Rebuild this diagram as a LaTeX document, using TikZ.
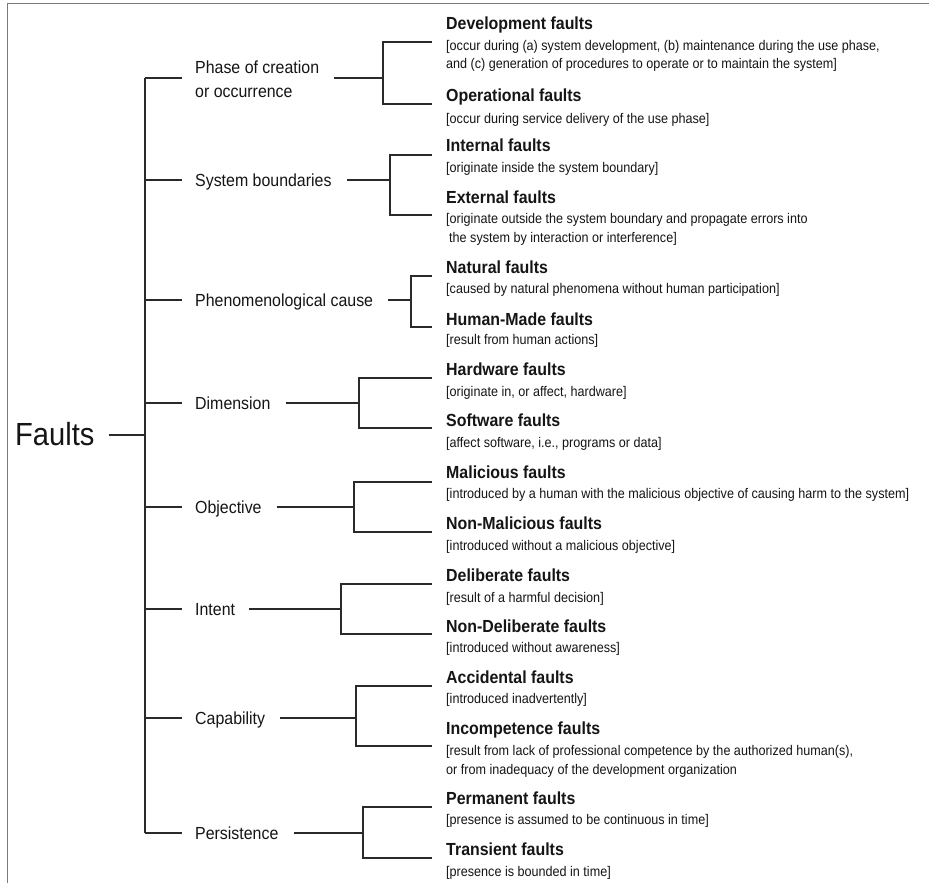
\documentclass[tikz,border=0pt]{standalone}
\usepackage{fontspec}
\setmainfont{Liberation Sans}
\newfontfamily\narrowfont[FakeStretch=0.91]{Liberation Sans}
\newfontfamily\descfont[FakeStretch=0.9]{Liberation Sans}
\definecolor{linec}{HTML}{2A2A2A}
\definecolor{framec}{HTML}{7A7A7A}
\definecolor{txt}{HTML}{151515}
\begin{document}
\begin{tikzpicture}[x=1pt,y=-1pt,
  ln/.style={line width=1.3pt, draw=linec},
  trunkline/.style={line width=1.6pt, draw=linec},
  frameline/.style={line width=1pt, draw=framec},
  cat/.style={anchor=west, inner sep=0pt, text height=12.5pt, text depth=0pt, font=\narrowfont\fontsize{17.5}{21}\selectfont, text=txt},
  ttl/.style={anchor=base west, inner sep=0pt, font=\narrowfont\fontsize{17.5}{21}\selectfont\bfseries, text=txt},
  dsc/.style={anchor=base west, inner sep=0pt, font=\descfont\fontsize{14}{19}\selectfont, text=txt}]
\useasboundingbox (0,0) rectangle (929,883);
\fill[white] (0,0) rectangle (929,883);
% frame (top and left edges)
\draw[frameline] (7,883) -- (7,4) -- (929,4);

% root
\node[anchor=base west, inner sep=0pt, text height=22pt, text depth=0pt,
      font=\narrowfont\fontsize{32}{38}\selectfont, text=txt] (faults) at (15,445) {Faults};

% category labels
\node[anchor=west, inner sep=0pt, align=left, font=\narrowfont\fontsize{17.5}{24}\selectfont, text=txt]
      (phase) at (195,79) {Phase of creation\\or occurrence};
\node[cat] (sysb) at (195,180) {System boundaries};
\node[cat] (phen) at (195,300) {Phenomenological cause};
\node[cat] (dim)  at (195,403) {Dimension};
\node[cat] (obj)  at (195,507) {Objective};
\node[cat] (intent) at (195,609) {Intent};
\node[cat] (capab) at (195,718) {Capability};
\node[cat] (pers) at (195,833) {Persistence};

% trunk points
\coordinate (b1) at (145,78);
\coordinate (b2) at (145,180);
\coordinate (b3) at (145,300);
\coordinate (b4) at (145,403);
\coordinate (b5) at (145,507);
\coordinate (b6) at (145,609);
\coordinate (b7) at (145,718);
\coordinate (b8) at (145,833);
\coordinate (fj) at (145,435);

\draw[trunkline] (b1) -- (b8);
\draw[ln, shorten <=14pt] (fj -| faults.east) -- (fj);
\draw[ln, shorten >=13pt] (b1) -- (b1 -| phase.west);
\draw[ln, shorten >=13pt] (b2) -- (b2 -| sysb.west);
\draw[ln, shorten >=13pt] (b3) -- (b3 -| phen.west);
\draw[ln, shorten >=13pt] (b4) -- (b4 -| dim.west);
\draw[ln, shorten >=13pt] (b5) -- (b5 -| obj.west);
\draw[ln, shorten >=13pt] (b6) -- (b6 -| intent.west);
\draw[ln, shorten >=13pt] (b7) -- (b7 -| capab.west);
\draw[ln, shorten >=13pt] (b8) -- (b8 -| pers.west);

% bracket junctions
\coordinate (j1) at (383,78);
\coordinate (j2) at (390,180);
\coordinate (j3) at (411,300);
\coordinate (j4) at (359,403);
\coordinate (j5) at (354,507);
\coordinate (j6) at (341,609);
\coordinate (j7) at (356,718);
\coordinate (j8) at (363,833);

\draw[ln, shorten <=15pt] (j1 -| phase.east) -- (j1);
\draw[ln, shorten <=15pt] (j2 -| sysb.east) -- (j2);
\draw[ln, shorten <=15pt] (j3 -| phen.east) -- (j3);
\draw[ln, shorten <=15pt] (j4 -| dim.east) -- (j4);
\draw[ln, shorten <=15pt] (j5 -| obj.east) -- (j5);
\draw[ln, shorten <=14pt] (j6 -| intent.east) -- (j6);
\draw[ln, shorten <=15pt] (j7 -| capab.east) -- (j7);
\draw[ln, shorten <=15pt] (j8 -| pers.east) -- (j8);

% bracket arm ends
\coordinate (a1t) at (432,42);  \coordinate (a1b) at (432,104);
\coordinate (a2t) at (432,155); \coordinate (a2b) at (432,215);
\coordinate (a3t) at (432,276); \coordinate (a3b) at (432,327);
\coordinate (a4t) at (432,378); \coordinate (a4b) at (432,428);
\coordinate (a5t) at (432,482); \coordinate (a5b) at (432,532);
\coordinate (a6t) at (432,584); \coordinate (a6b) at (432,634);
\coordinate (a7t) at (432,686); \coordinate (a7b) at (432,746);
\coordinate (a8t) at (432,807); \coordinate (a8b) at (432,858);

\draw[ln] (a1t) -| (j1) |- (a1b);
\draw[ln] (a2t) -| (j2) |- (a2b);
\draw[ln] (a3t) -| (j3) |- (a3b);
\draw[ln] (a4t) -| (j4) |- (a4b);
\draw[ln] (a5t) -| (j5) |- (a5b);
\draw[ln] (a6t) -| (j6) |- (a6b);
\draw[ln] (a7t) -| (j7) |- (a7b);
\draw[ln] (a8t) -| (j8) |- (a8b);

% leaves
\node[ttl] (devT) at (446,30) {Development faults};
\node[dsc] (devD1) at (446,51) {[occur during (a) system development, (b) maintenance during the use phase,};
\node[dsc] (devD2) at (446,69) {and (c) generation of procedures to operate or to maintain the system]};

\node[ttl] (opT) at (446,102) {Operational faults};
\node[dsc] (opD) at (446,123) {[occur during service delivery of the use phase]};

\node[ttl] (inT) at (446,151) {Internal faults};
\node[dsc] (inD) at (446,172) {[originate inside the system boundary]};

\node[ttl] (exT) at (446,203) {External faults};
\node[dsc] (exD1) at (446,223) {[originate outside the system boundary and propagate errors into};
\node[dsc] (exD2) at (449,242) {the system by interaction or interference]};

\node[ttl] (natT) at (446,273) {Natural faults};
\node[dsc] (natD) at (446,293) {[caused by natural phenomena without human participation]};

\node[ttl] (humT) at (446,325) {Human-Made faults};
\node[dsc] (humD) at (446,344) {[result from human actions]};

\node[ttl] (hwT) at (446,375) {Hardware faults};
\node[dsc] (hwD) at (446,396) {[originate in, or affect, hardware]};

\node[ttl] (swT) at (446,426) {Software faults};
\node[dsc] (swD) at (446,447) {[affect software, i.e., programs or data]};

\node[ttl] (malT) at (446,478) {Malicious faults};
\node[dsc] (malD) at (446,498) {[introduced by a human with the malicious objective of causing harm to the system]};

\node[ttl] (nmalT) at (446,529) {Non-Malicious faults};
\node[dsc] (nmalD) at (446,550) {[introduced without a malicious objective]};

\node[ttl] (delT) at (446,581) {Deliberate faults};
\node[dsc] (delD) at (446,602) {[result of a harmful decision]};

\node[ttl] (ndelT) at (446,632) {Non-Deliberate faults};
\node[dsc] (ndelD) at (446,652) {[introduced without awareness]};

\node[ttl] (accT) at (446,683) {Accidental faults};
\node[dsc] (accD) at (446,703) {[introduced inadvertently]};

\node[ttl] (incT) at (446,734) {Incompetence faults};
\node[dsc] (incD1) at (446,755) {[result from lack of professional competence by the authorized human(s),};
\node[dsc] (incD2) at (446,774) {or from inadequacy of the development organization};

\node[ttl] (perT) at (446,804) {Permanent faults};
\node[dsc] (perD) at (446,824) {[presence is assumed to be continuous in time]};

\node[ttl] (trT) at (446,855) {Transient faults};
\node[dsc] (trD) at (446,876) {[presence is bounded in time]};
\end{tikzpicture}
\end{document}
